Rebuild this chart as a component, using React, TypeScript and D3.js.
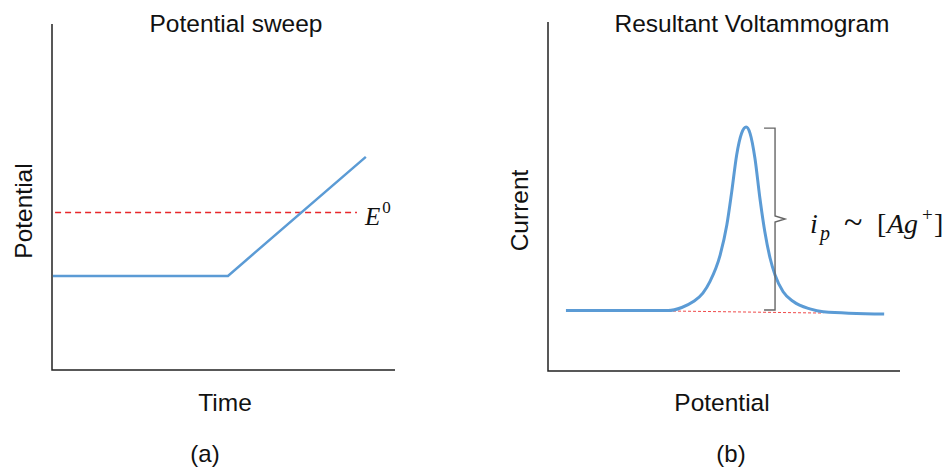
import React from "react";
import * as d3 from "d3";

// Panel (a): potential sweep (arbitrary units 0..100)
const sweepTime = [0.3, 51.3, 91.5];
const sweepPotential = [27.2, 27.2, 61.6];
const e0Level = 45.5;
const e0Range = [0.9, 88.9];

// Panel (b): voltammogram (arbitrary units 0..100)
const vPotential = [5.1, 34.1, 38.0, 41.3, 44.0, 46.0, 48.9, 50.8, 52.2, 53.6, 55.0, 56.3, 57.4, 58.8, 60.2, 61.6, 63.1, 64.5, 66.8, 69.7, 74.4, 78.2, 95.5];
const vCurrent = [17.3, 17.3, 18.2, 19.9, 22.3, 25.6, 33.2, 41.8, 51.4, 61.9, 68.1, 69.9, 68.1, 60.9, 49.5, 39.9, 32.3, 27.5, 22.7, 19.9, 17.8, 17.0, 16.3];
const baselinePotential = [34.1, 78.2];
const baselineCurrent = [17.2, 16.6];
const bracketX = 64.5;
const bracketTop = 69.6;
const bracketBottom = 17.5;

const titles = ["Potential sweep", "Resultant Voltammogram"];
const xLabels = ["Time", "Potential"];
const yLabels = ["Potential", "Current"];
const panelTags = ["(a)", "(b)"];

const BLUE = "#5b9bd5";
const SANS = "'Liberation Sans', Arial, sans-serif";
const SERIF = "'Liberation Serif', 'DejaVu Serif', serif";

export default function App() {
  const xA = d3.scaleLinear().domain([0, 100]).range([52, 395]);
  const yA = d3.scaleLinear().domain([0, 100]).range([370, 24]);
  const xB = d3.scaleLinear().domain([0, 100]).range([548, 900]);
  const yB = d3.scaleLinear().domain([0, 100]).range([371, 22]);

  const lineA = d3
    .line<number>()
    .x((_, i) => xA(sweepTime[i]))
    .y((d) => yA(d));
  const sweepPath = lineA(sweepPotential) || "";

  const lineB = d3
    .line<number>()
    .x((_, i) => xB(vPotential[i]))
    .y((d) => yB(d))
    .curve(d3.curveMonotoneX);
  const curvePath = lineB(vCurrent) || "";

  const baseLine = d3
    .line<number>()
    .x((_, i) => xB(baselinePotential[i]))
    .y((d) => yB(d));
  const basePath = baseLine(baselineCurrent) || "";

  const bx = xB(bracketX);
  const bt = yB(bracketTop);
  const bb = yB(bracketBottom);
  const bm = (bt + bb) / 2;
  const hook = 11;
  const tip = 10;
  const bracketPath = `M${bx - hook},${bt} H${bx} V${bm - 3} L${bx + tip},${bm} L${bx},${bm + 3} V${bb} H${bx - hook}`;

  const panels = [
    { x: xA, y: yA, cx: 236, xl: 225, tag: 205 },
    { x: xB, y: yB, cx: 752, xl: 722, tag: 731 },
  ];

  const lx = 810;
  const ly = 233;

  return (
    <svg
      width={945}
      height={469}
      style={{ position: "absolute", left: 0, top: 0, background: "#fff" }}
      fontFamily={SANS}
    >
      {panels.map((p, i) => {
        const [x0, x1] = p.x.range();
        const [y0, y1] = p.y.range();
        return (
          <g key={i}>
            <path d={`M${x0},${y1} V${y0} H${x1}`} fill="none" stroke="#222" strokeWidth={1.5} />
            <text x={p.cx} y={32} textAnchor="middle" fontSize={24.5} fill="#111">
              {titles[i]}
            </text>
            <text x={p.xl} y={411} textAnchor="middle" fontSize={24.5} fill="#111">
              {xLabels[i]}
            </text>
            <text
              transform={`translate(${x0 - 20},${(y0 + y1) / 2 + 14}) rotate(-90)`}
              textAnchor="middle"
              fontSize={24.5}
              fill="#111"
            >
              {yLabels[i]}
            </text>
            <text x={p.tag} y={462} textAnchor="middle" fontSize={24} fill="#111">
              {panelTags[i]}
            </text>
          </g>
        );
      })}

      {/* Panel a */}
      <line
        x1={xA(e0Range[0])}
        x2={xA(e0Range[1])}
        y1={yA(e0Level)}
        y2={yA(e0Level)}
        stroke="#e8262a"
        strokeWidth={1.5}
        strokeDasharray="6,4"
      />
      <path d={sweepPath} fill="none" stroke={BLUE} strokeWidth={2.5} />
      <text x={xA(e0Range[1]) + 8} y={yA(e0Level) + 12} fontFamily={SERIF} fontSize={25} fill="#111">
        <tspan fontStyle="italic">E</tspan>
        <tspan fontSize={17} dy={-12} dx={2}>0</tspan>
      </text>

      {/* Panel b */}
      <path d={basePath} fill="none" stroke="#f04a4a" strokeWidth={1} strokeDasharray="3,2" />
      <path d={curvePath} fill="none" stroke={BLUE} strokeWidth={3} strokeLinejoin="round" />
      <path d={bracketPath} fill="none" stroke="#666" strokeWidth={1.4} />
      <text y={ly} fontFamily={SERIF} fontSize={28} fill="#111">
        <tspan x={lx} fontStyle="italic">i</tspan>
        <tspan x={lx + 10} dy={7} fontSize={20} fontStyle="italic">p</tspan>
        <tspan x={lx + 34} dy={-7} fontSize={34}>~</tspan>
        <tspan x={lx + 67}>[</tspan>
        <tspan x={lx + 77} fontStyle="italic">Ag</tspan>
        <tspan x={lx + 112} dy={-12} fontSize={19}>+</tspan>
        <tspan x={lx + 124} dy={12}>]</tspan>
      </text>
    </svg>
  );
}
